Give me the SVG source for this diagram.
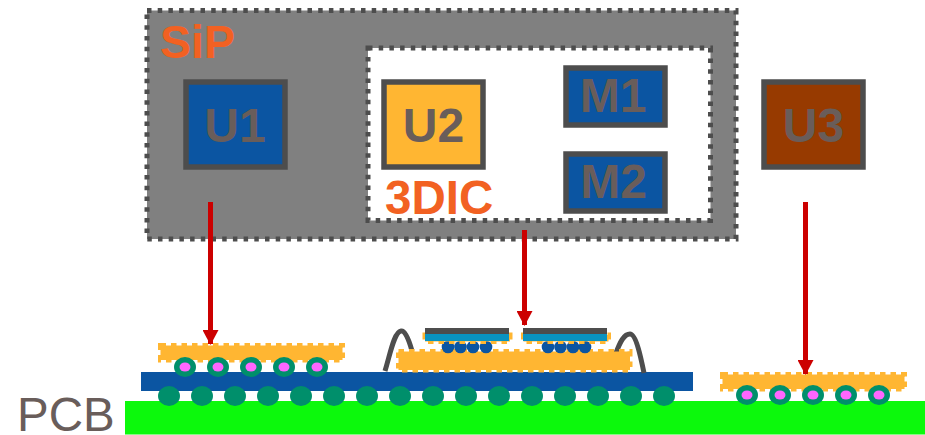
<svg xmlns="http://www.w3.org/2000/svg" width="925" height="435" viewBox="0 0 925 435">
<style>
text{font-family:"Liberation Sans",Arial,sans-serif;font-size:48px}
.lbl{fill:#695d5a;text-anchor:middle;font-weight:bold}
.or{fill:#f26122;font-weight:bold}
.blue{fill:#0b55a2;stroke:#4d4d4d;stroke-width:5.5}
.encl{stroke:#4d4d4d;stroke-width:5;stroke-dasharray:4.500 6.200}
.die{fill:#ffb632;stroke:#ffb632;stroke-width:5;stroke-dasharray:5.500 5}
.ball{fill:#008f6b}
.pink{fill:#ff66ff}
.mb{fill:#0b55a2}
.wire{fill:none;stroke:#4d4d4d;stroke-width:5}
.arrow{stroke:#cc0000;stroke-width:5;fill:none;marker-end:url(#ah)}
</style>
<defs>
<marker id="ah" markerUnits="userSpaceOnUse" markerWidth="16" markerHeight="16" refX="14" refY="8" orient="auto"><path d="M0 0L15 8L0 16Z" fill="#cc0000"/></marker>
<g id="tb"><ellipse class="ball" cx="0" cy="0" rx="11" ry="10"/><ellipse class="pink" cx="0" cy="0" rx="5.5" ry="4.5"/></g>
</defs>
<g id="pcb"><rect x="125" y="401" width="800" height="33.500" fill="#0cf90c"/><text x="17" y="431" fill="#695d5a" style="font-size:47.500px">PCB</text></g>
<g id="sip"><rect class="encl" x="147" y="10.500" width="589" height="228.500" fill="#808080"/><text class="or" x="160" y="57.500" style="font-size:46.500px">SiP</text></g>
<g id="dic"><rect class="encl" x="368" y="48" width="342.500" height="172.500" fill="#fff"/><text class="or" x="385" y="214" style="font-size:47.500px">3DIC</text></g>
<g id="u1"><rect class="blue" x="186" y="82" width="99" height="85"/><text class="lbl" x="235" y="142">U1</text></g>
<g id="u2"><rect x="384" y="82" width="99" height="85" fill="#ffb632" stroke="#4d4d4d" stroke-width="5.500"/><text class="lbl" x="433.500" y="142">U2</text></g>
<g id="u3"><rect x="764" y="82" width="99" height="85" fill="#973a00" stroke="#4d4d4d" stroke-width="5.500"/><text class="lbl" x="813.500" y="142">U3</text></g>
<g id="m1"><rect class="blue" x="566" y="68" width="99" height="57"/><text class="lbl" x="613" y="112">M1</text></g>
<g id="m2"><rect class="blue" x="566" y="154" width="99" height="57"/><text class="lbl" x="613.500" y="198">M2</text></g>
<g id="package">
<rect x="141" y="372" width="552" height="19" fill="#0b55a2"/>
<g id="bga">
<ellipse class="ball" cx="169" cy="396" rx="11" ry="10"/><ellipse class="ball" cx="202" cy="396" rx="11" ry="10"/><ellipse class="ball" cx="235" cy="396" rx="11" ry="10"/><ellipse class="ball" cx="268" cy="396" rx="11" ry="10"/><ellipse class="ball" cx="301" cy="396" rx="11" ry="10"/><ellipse class="ball" cx="334" cy="396" rx="11" ry="10"/><ellipse class="ball" cx="367" cy="396" rx="11" ry="10"/><ellipse class="ball" cx="400" cy="396" rx="11" ry="10"/><ellipse class="ball" cx="433" cy="396" rx="11" ry="10"/><ellipse class="ball" cx="466" cy="396" rx="11" ry="10"/><ellipse class="ball" cx="499" cy="396" rx="11" ry="10"/><ellipse class="ball" cx="532" cy="396" rx="11" ry="10"/><ellipse class="ball" cx="565" cy="396" rx="11" ry="10"/><ellipse class="ball" cx="598" cy="396" rx="11" ry="10"/><ellipse class="ball" cx="631" cy="396" rx="11" ry="10"/><ellipse class="ball" cx="664" cy="396" rx="11" ry="10"/>
</g>
</g>
<g id="die-left">
<rect class="die" x="160.500" y="345.500" width="182" height="14.500"/>
<use href="#tb" x="185" y="367"/><use href="#tb" x="218" y="367"/><use href="#tb" x="251" y="367"/><use href="#tb" x="284" y="367"/><use href="#tb" x="317" y="367"/>
</g>
<g id="die-right">
<rect class="die" x="722.500" y="374.500" width="182" height="14.500"/>
<use href="#tb" x="747" y="395"/><use href="#tb" x="780" y="395"/><use href="#tb" x="813" y="395"/><use href="#tb" x="846" y="395"/><use href="#tb" x="879" y="395"/>
</g>
<g id="die-center">
<path class="wire" d="M385 371C390 355 394 332 401 331C405 330 409 340 412 351"/>
<path class="wire" d="M616 353C620 342 624 334 630 334C636 334 641 358 644 373"/>
<rect class="die" x="398.500" y="351.500" width="231.500" height="18.500"/>
<circle class="mb" cx="448" cy="347" r="6.300"/><circle class="mb" cx="460.500" cy="347" r="6.300"/><circle class="mb" cx="473" cy="347" r="6.300"/><circle class="mb" cx="486" cy="347" r="6.300"/>
<circle class="mb" cx="548" cy="347" r="6.300"/><circle class="mb" cx="560.500" cy="347" r="6.300"/><circle class="mb" cx="573" cy="347" r="6.300"/><circle class="mb" cx="585" cy="347" r="6.300"/>
<rect class="die" x="425" y="335" width="85" height="6.500" stroke-width="4"/>
<rect class="die" x="523.500" y="335" width="85" height="6.500" stroke-width="4"/>
<rect x="425" y="334" width="84" height="7" fill="#0a93c0"/><rect x="523" y="334" width="84" height="7" fill="#0a93c0"/>
<rect x="425" y="328" width="84" height="6" fill="#4d4d4d"/><rect x="523" y="328" width="84" height="6" fill="#4d4d4d"/>
</g>
<g id="connectors">
<path class="arrow" d="M210.500 202V344"/>
<path class="arrow" d="M524.500 230V325"/>
<path class="arrow" d="M805.500 202V374"/>
</g>
</svg>
